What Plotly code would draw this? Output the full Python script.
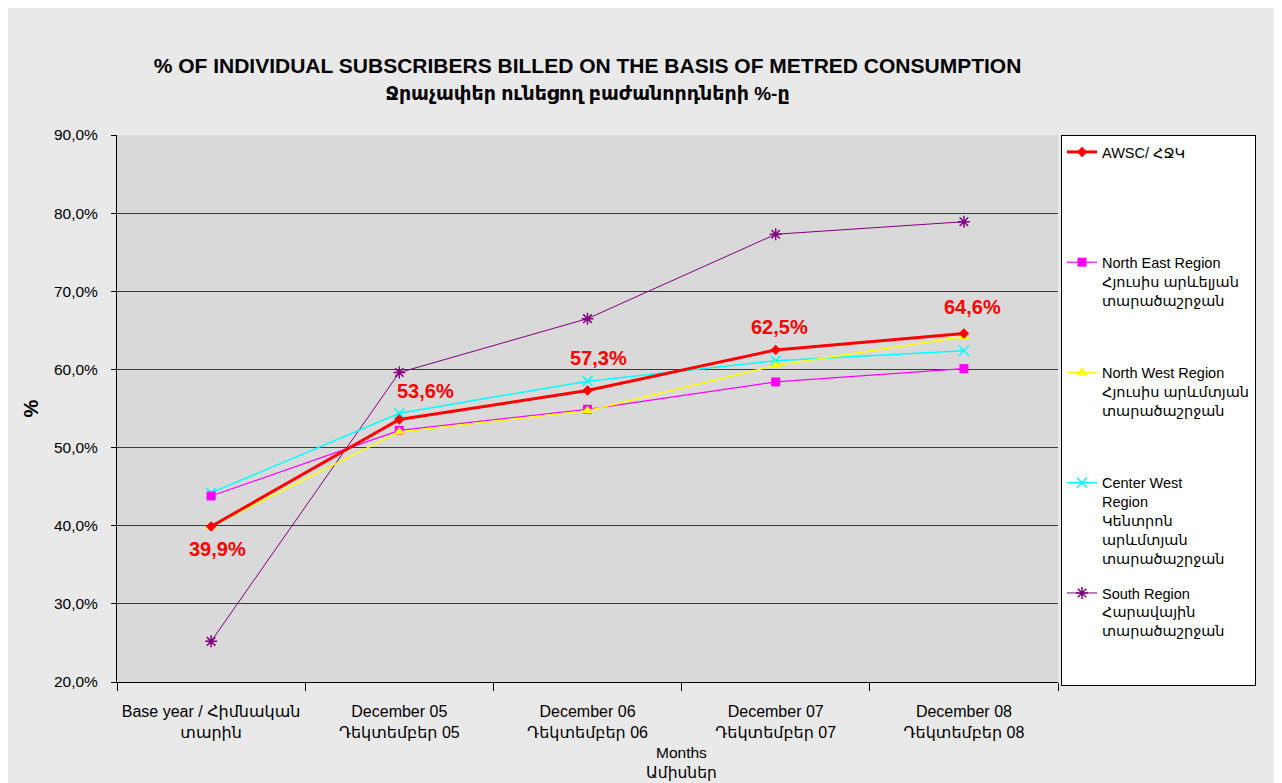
import plotly.graph_objects as go

categories = ["Base year / Հիմնական<br>տարին",
              "December 05<br>Դեկտեմբեր 05",
              "December 06<br>Դեկտեմբեր 06",
              "December 07<br>Դեկտեմբեր 07",
              "December 08<br>Դեկտեմբեր 08"]

awsc = [39.9, 53.6, 57.3, 62.5, 64.6]
north_east = [43.8, 52.2, 54.9, 58.4, 60.1]
north_west = [39.9, 52.0, 54.7, 60.5, 64.2]
center_west = [44.2, 54.4, 58.5, 61.1, 62.4]
south = [25.2, 59.6, 66.5, 77.3, 78.9]

y_ticks = [20, 30, 40, 50, 60, 70, 80, 90]
y_ticktext = [f"{v:.1f}%".replace(".", ",") for v in y_ticks]
awsc_labels = [f"{v:.1f}%".replace(".", ",") for v in awsc]

names = [
    "AWSC/ ՀՋԿ",
    "North East Region<br>Հյուսիս արևելյան<br>տարածաշրջան",
    "North West Region<br>Հյուսիս արևմտյան<br>տարածաշրջան",
    "Center West<br>Region<br>Կենտրոն<br>արևմտյան<br>տարածաշրջան",
    "South Region<br>Հարավային<br>տարածաշրջան",
]

def pad(name, n=5):
    k = name.count("<br>") + 1
    return name + "<br>\u00a0" * (n - k)

# page body has an 8px margin; figure coords = reference coords - 8
OFF = 8
W, H = 1282 - OFF, 783 - OFF
ML, MT = 117 - OFF, 135 - OFF
PR, PB = 1058 - OFF, 682 - OFF
MR, MB = W - PR, H - PB
PW, PH = PR - ML, PB - MT

FONT = "Liberation Sans, Arial, DejaVu Sans, sans-serif"

fig = go.Figure()

fig.add_trace(go.Scatter(
    x=categories, y=south, name=pad(names[4]), legendgroup="g5", legendrank=5,
    mode="lines+markers", line=dict(color="#800080", width=1),
    marker=dict(symbol="asterisk-open", size=10, color="#800080", line=dict(width=1.5, color="#800080"))))
fig.add_trace(go.Scatter(
    x=categories, y=center_west, name=pad(names[3]), legendgroup="g4", legendrank=4,
    mode="lines+markers", line=dict(color="#00ffff", width=1.5),
    marker=dict(symbol="x-thin-open", size=10, color="#00ffff", line=dict(width=1.5, color="#00ffff"))))
fig.add_trace(go.Scatter(
    x=categories, y=north_east, name=pad(names[1]), legendgroup="g2", legendrank=2,
    mode="lines+markers", line=dict(color="#ff00ff", width=1.2),
    marker=dict(symbol="square", size=9, color="#ff00ff")))
fig.add_trace(go.Scatter(
    x=categories, y=north_west, name=pad(names[2]), legendgroup="g3", legendrank=3,
    mode="lines+markers", line=dict(color="#ffff00", width=1.5),
    marker=dict(symbol="triangle-up", size=10, color="#ffff00")))
fig.add_trace(go.Scatter(
    x=categories, y=awsc, name=pad(names[0]), legendgroup="g1", legendrank=1,
    mode="lines+markers", line=dict(color="#ff0000", width=3),
    marker=dict(symbol="diamond", size=8, color="#ff0000")))

# data labels for the AWSC series
label_dx = [6, 26, 11, 4, 9]
label_dy = [-22, 28, 33, 23, 26]
for cat, val, lab, dx, dy in zip(categories, awsc, awsc_labels, label_dx, label_dy):
    fig.add_annotation(x=cat, y=val, text=f"<b>{lab}</b>", showarrow=False,
                       xshift=dx, yshift=dy,
                       font=dict(family=FONT, size=20, color="#ff0000"))

fig.update_layout(
    width=W, height=H,
    margin=dict(l=ML, r=MR, t=MT, b=MB, autoexpand=False),
    paper_bgcolor="#e9e9e9",
    plot_bgcolor="#d9d9d9",
    font=dict(family=FONT, color="#000000", size=15),
    title=dict(
        text="<b>% OF INDIVIDUAL SUBSCRIBERS BILLED ON THE BASIS OF METRED CONSUMPTION</b><br>"
             "<b><span style='font-size:19px'>Ջրաչափեր ունեցող բաժանորդների %-ը</span></b>",
        x=0.5, xref="paper", xanchor="center",
        y=1 - (73 - OFF) / H, yref="container", yanchor="top",
        font=dict(family=FONT, size=21, color="#000000")),
    showlegend=True,
    legend=dict(
        x=(1061 - OFF - ML) / PW, xanchor="left", y=1.0, yanchor="top",
        bgcolor="#ffffff", bordercolor="#000000", borderwidth=1,
        font=dict(family=FONT, size=14.5, color="#000000"),
        valign="top", tracegroupgap=13, itemwidth=30,
        traceorder="grouped", maxheight=740),
    xaxis=dict(
        type="category", range=[-0.5, 4.5],
        showline=True, linecolor="#000000", linewidth=1,
        ticks="outside", tickson="boundaries", ticklen=8, tickcolor="#000000",
        ticklabelstandoff=15, tickangle=0,
        showgrid=False, tickfont=dict(size=16), fixedrange=True),
    yaxis=dict(
        range=[20, 90], tickvals=y_ticks, ticktext=y_ticktext,
        showline=True, linecolor="#000000", linewidth=1,
        ticks="outside", ticklen=5, tickcolor="#000000",
        ticklabelstandoff=10,
        showgrid=True, gridcolor="#3a3a3a", gridwidth=1,
        tickfont=dict(size=15.5),
        title=dict(text="<b>%</b>", font=dict(size=20), standoff=9)),
)

fig.add_annotation(
    text="Months<br>Ամիսներ", xref="paper", yref="paper",
    x=(681 - OFF - ML) / PW, y=-(742 - 682) / PH, xanchor="center", yanchor="top",
    showarrow=False, font=dict(family=FONT, size=15.5, color="#000000"))

fig.write_html("out.html")
